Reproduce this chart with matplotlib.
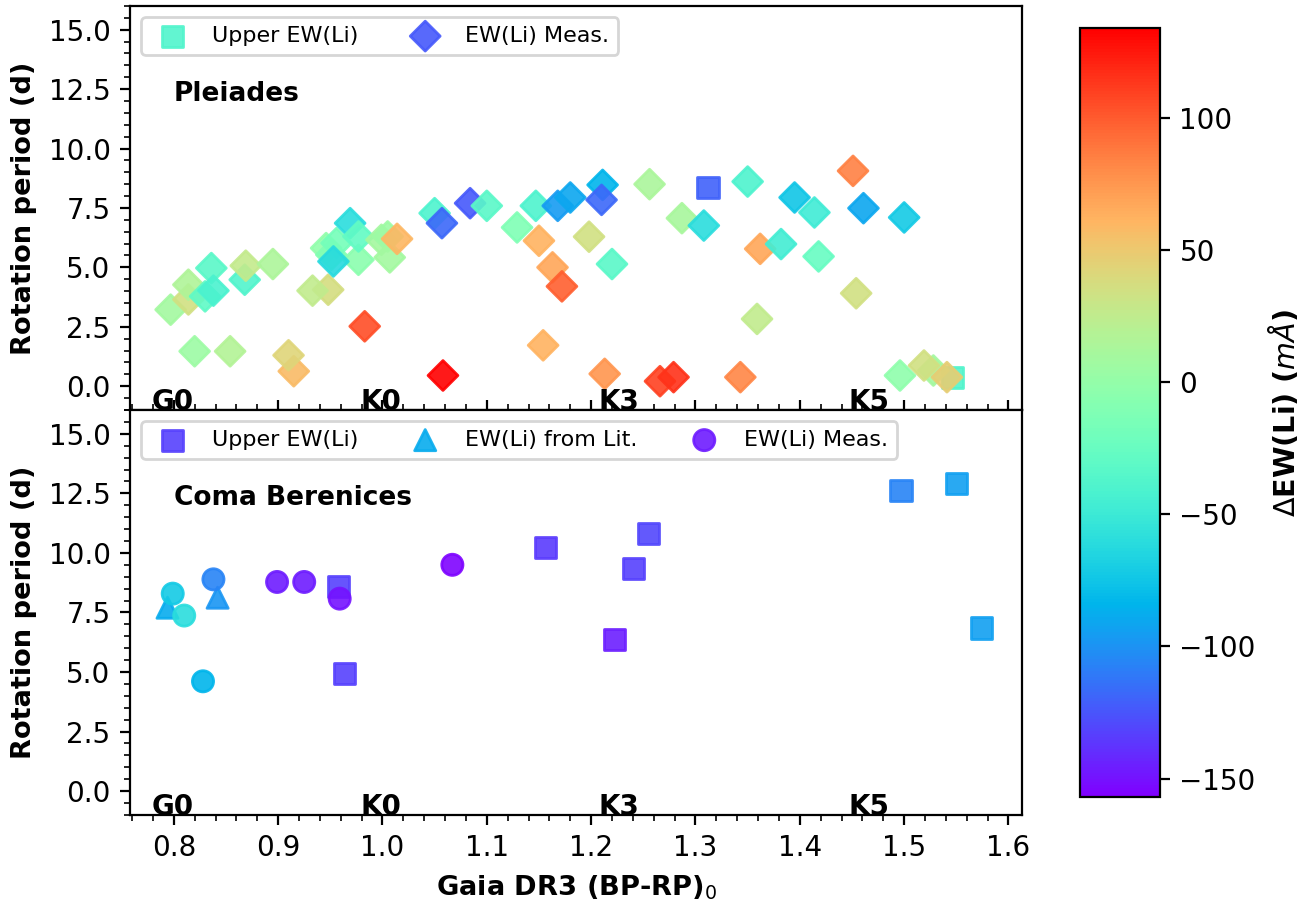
import numpy as np
import matplotlib.pyplot as plt
from matplotlib.colors import Normalize
from matplotlib.ticker import MultipleLocator

# Pleiades - upper limits (squares)
pl_up_bprp = [1.546, 1.312]
pl_up_prot = [0.35, 8.36]
pl_up_dew = [-38, -120]

# Pleiades - measured EW(Li) (diamonds)
pl_bprp = [1.084, 0.797, 0.814, 0.814, 0.836, 0.830, 0.838, 0.868, 0.869, 0.895,
           0.820, 0.854, 0.915, 0.910, 0.948, 0.933, 0.946, 0.951, 0.956, 0.977,
           0.969, 0.977, 0.953, 0.999, 1.005, 1.007, 1.014, 0.983, 1.058, 1.050,
           1.057, 1.100, 1.129, 1.147, 1.150, 1.168, 1.180, 1.163, 1.172, 1.154,
           1.211, 1.210, 1.198, 1.220, 1.213, 1.256, 1.266, 1.279, 1.287, 1.308,
           1.350, 1.343, 1.362, 1.382, 1.359, 1.395, 1.414, 1.418, 1.451, 1.461,
           1.454, 1.500, 1.496, 1.528, 1.519, 1.541]
pl_prot = [7.70, 3.22, 3.65, 4.27, 4.97, 3.78, 4.02, 4.48, 5.07, 5.14,
           1.47, 1.47, 0.63, 1.30, 4.06, 4.02, 5.81, 5.53, 6.02, 5.32,
           6.86, 6.30, 5.25, 6.16, 6.30, 5.42, 6.20, 2.52, 0.45, 7.28,
           6.86, 7.59, 6.68, 7.59, 6.12, 7.59, 7.94, 5.00, 4.20, 1.72,
           8.47, 7.84, 6.29, 5.14, 0.52, 8.50, 0.21, 0.38, 7.07, 6.76,
           8.61, 0.38, 5.78, 5.98, 2.83, 7.94, 7.31, 5.46, 9.06, 7.49,
           3.91, 7.10, 0.45, 0.66, 0.87, 0.38]
pl_dew = [-124, 8, 35, 15, -32, -30, -42, -38, 27, 14,
          5, 17, 57, 42, 37, 25, -2, -10, -18, -5,
          -60, -28, -62, 10, 5, 8, 59, 105, 134, -40,
          -118, -32, -12, -40, 62, -96, -90, 68, 98, 62,
          -84, -118, 35, -32, 75, 13, 110, 115, 12, -60,
          -40, 82, 68, -46, 26, -75, -48, -26, 85, -90,
          35, -72, -3, 10, 35, 47]

# Coma Berenices - upper limits (squares)
cb_up_bprp = [0.958, 0.964, 1.156, 1.222, 1.241, 1.255, 1.497, 1.550, 1.574]
cb_up_prot = [8.58, 4.92, 10.21, 6.35, 9.33, 10.82, 12.62, 12.91, 6.85]
cb_up_dew = [-132, -132, -135, -145, -132, -130, -106, -94, -94]

# Coma Berenices - EW(Li) from literature (triangles)
cb_lit_bprp = [0.794, 0.842]
cb_lit_prot = [7.70, 8.12]
cb_lit_dew = [-88, -98]

# Coma Berenices - measured EW(Li) (circles)
cb_bprp = [0.899, 0.925, 0.959, 1.067, 0.799, 0.810, 0.838, 0.828]
cb_prot = [8.78, 8.78, 8.08, 9.50, 8.29, 7.37, 8.89, 4.61]
cb_dew = [-146, -146, -150, -155, -72, -60, -106, -84]

sptypes = ['G0', 'K0', 'K3', 'K5']
sptype_x = [0.779, 0.979, 1.207, 1.447]

norm = Normalize(vmin=-157, vmax=134)
cmap = 'rainbow'
s = 58

fig = plt.figure(figsize=(6.55, 4.51), dpi=200)
ax1 = fig.add_axes([0.0992, 0.5455, 0.6810, 0.4479])
ax2 = fig.add_axes([0.0992, 0.0965, 0.6810, 0.4490], sharex=ax1)
cax = fig.add_axes([0.8244, 0.1164, 0.0611, 0.8526])

ax1.scatter(pl_up_bprp, pl_up_prot, c=pl_up_dew, cmap=cmap, norm=norm, marker='s',
            s=s, alpha=0.9, label='Upper EW(Li)')
sc = ax1.scatter(pl_bprp, pl_prot, c=pl_dew, cmap=cmap, norm=norm, marker='D',
                 s=s, alpha=0.9, label='EW(Li) Meas.')

ax2.scatter(cb_up_bprp, cb_up_prot, c=cb_up_dew, cmap=cmap, norm=norm, marker='s',
            s=s, alpha=0.9, label='Upper EW(Li)')
ax2.scatter(cb_lit_bprp, cb_lit_prot, c=cb_lit_dew, cmap=cmap, norm=norm, marker='^',
            s=s, alpha=0.9, label='EW(Li) from Lit.')
ax2.scatter(cb_bprp, cb_prot, c=cb_dew, cmap=cmap, norm=norm, marker='o',
            s=s, alpha=0.9, label='EW(Li) Meas.')

ax1.text(0.80, 12.0, 'Pleiades', fontsize=9.5, fontweight='bold')
ax2.text(0.80, 12.0, 'Coma Berenices', fontsize=9.5, fontweight='bold')

for ax in (ax1, ax2):
    ax.set_xlim(0.758, 1.613)
    ax.set_ylim(-1, 16)
    ax.set_ylabel('Rotation period (d)', fontsize=9.8, fontweight='bold')
    ax.xaxis.set_minor_locator(MultipleLocator(0.02))
    ax.yaxis.set_minor_locator(MultipleLocator(0.5))
    ax.tick_params(labelsize=10)
    for name, xs in zip(sptypes, sptype_x):
        ax.text(xs, -1, name, fontsize=10, fontweight='bold')

ax1.legend(loc='upper left', ncol=2, fontsize=8)
ax2.legend(loc='upper left', ncol=3, fontsize=8)

ax1.tick_params(axis='x', which='both', direction='in', labelbottom=False)
ax2.set_xlabel('Gaia DR3 (BP-RP)$_0$', fontsize=9.8, fontweight='bold')

cb = fig.colorbar(sc, cax=cax)
cb.solids.set_alpha(1)
cb.set_ticks([-150, -100, -50, 0, 50, 100])
cb.ax.tick_params(labelsize=10)
cb.set_label(r'$\Delta$EW(Li) ($m\AA$)', fontsize=10.3, fontweight='bold', labelpad=4)

fig.savefig('out.png', dpi=200)
